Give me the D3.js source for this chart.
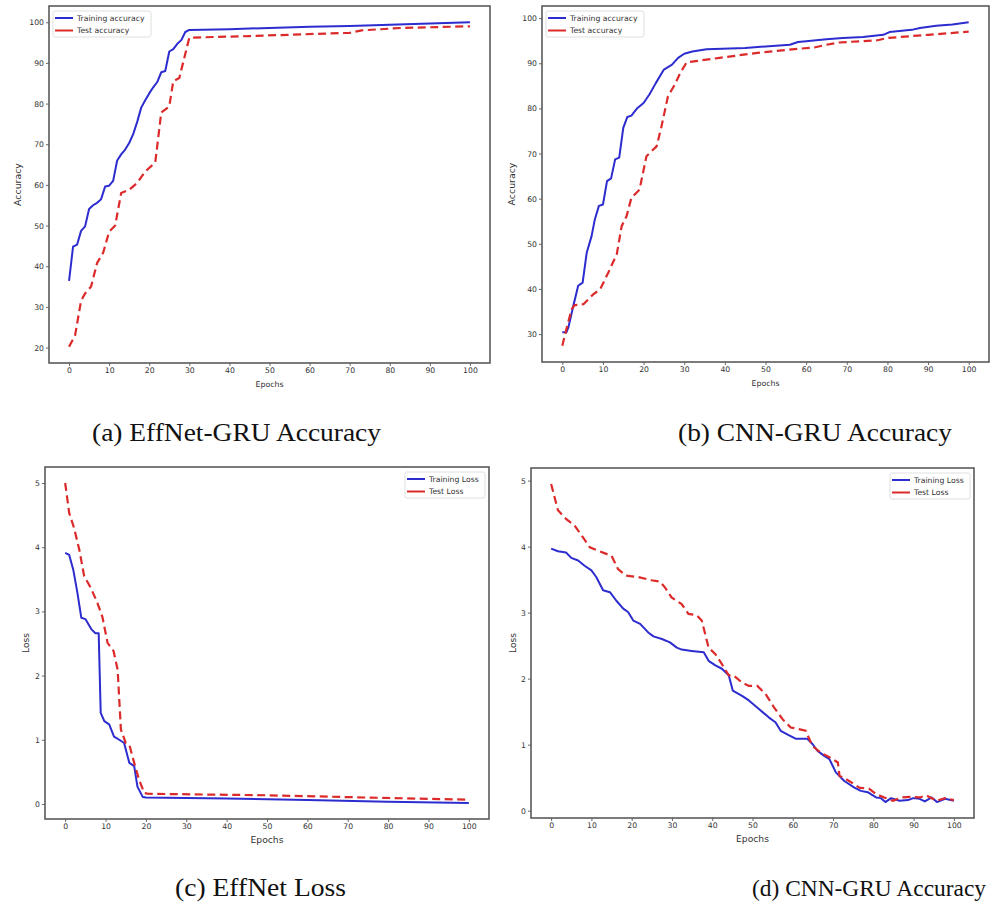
<!DOCTYPE html>
<html>
<head>
<meta charset="utf-8">
<script src="https://cdn.jsdelivr.net/npm/d3@7"></script>
<style>
  body { margin: 0; background: #fff; }
  svg { display: block; }
  .tick text { font-family: "DejaVu Sans", sans-serif; fill: #333; }
  .caption { font-family: "Liberation Serif", "Times New Roman", serif; fill: #111; }
</style>
</head>
<body>
<svg id="fig" width="991" height="905"></svg>
<script>
// epoch ticks shared by all four plots
var epochTicks = [0, 10, 20, 30, 40, 50, 60, 70, 80, 90, 100];
var accTicksA = [20, 30, 40, 50, 60, 70, 80, 90, 100];
var accTicksB = [30, 40, 50, 60, 70, 80, 90, 100];
var lossTicks = [0, 1, 2, 3, 4, 5];

// (a) EffNet-GRU accuracy, [epoch, value]
var effTrainAcc = [[0,36.4],[1,44.8],[2,45.3],[3,48.7],[4,49.8],[5,54.1],[6,55.0],[7,55.6],[8,56.5],[9,59.6],[10,59.8],[11,61.0],[12,66.0],[13,67.5],[14,68.7],[15,70.3],[16,72.5],[17,75.5],[18,79.0],[19,80.8],[20,82.5],[21,84.0],[22,85.3],[23,87.7],[24,88.0],[25,92.8],[26,93.4],[27,94.7],[28,95.6],[29,97.6],[30,98.1],[40,98.3],[50,98.6],[60,98.9],[70,99.1],[80,99.4],[90,99.7],[100,100]];
var effTestAcc = [[0,20.2],[1.5,23],[3,31.5],[4,33.3],[5.5,35],[7,40.8],[8.5,43.3],[10,48.5],[11.5,50],[13,58],[15,58.8],[17,60.5],[19,63.3],[21.5,65.5],[23,77.8],[25,79.3],[26,85.5],[27.5,86.3],[30,96.2],[45,96.6],[70,97.4],[73,98.0],[83,98.6],[100,99.0]];

// (b) CNN-GRU accuracy
var cnnTrainAcc = [[0,30.4],[1,30.4],[1.5,31.5],[2.7,36.2],[3.9,40.7],[5,41.4],[6,48.0],[7.2,51.7],[8,55.4],[9,58.4],[10,58.7],[11,63.9],[12,64.5],[13,68.7],[14,69.1],[15,75.7],[16,78.1],[17,78.4],[18.5,80.1],[20,81.2],[21.5,83.2],[23,85.6],[25,88.6],[27,89.7],[28.5,91.2],[30,92.1],[32,92.6],[35.5,93.1],[45,93.4],[56,94.1],[58,94.7],[60,94.9],[65,95.3],[69,95.6],[74,95.8],[79,96.3],[80.5,96.9],[86,97.4],[88,97.8],[92,98.3],[96,98.6],[100,99.1]];
var cnnTestAcc = [[0,27.4],[1,31.1],[2.3,35.5],[3,36.4],[5.2,36.6],[7.6,38.8],[9.3,39.9],[11.3,43.6],[13.4,47.7],[14.6,53.9],[15.8,56.1],[17,60.2],[19,62.0],[20.7,69.4],[23.2,71.6],[24.4,76.0],[26,82.7],[27.7,85.3],[29,87.8],[30.6,90.2],[38.7,91.2],[48,92.3],[55.5,93.0],[62,93.5],[65,94.1],[68,94.6],[77.6,95.1],[80,95.6],[90,96.3],[100,97.0]];

// (c) EffNet loss
var effTrainLoss = [[0,3.91],[1,3.88],[2,3.65],[3,3.30],[4,2.90],[5,2.88],[6.5,2.72],[7.5,2.66],[8.3,2.66],[8.8,1.42],[9.7,1.29],[10.9,1.24],[12.1,1.05],[13.4,1.0],[14.6,0.95],[15.9,0.64],[17.1,0.59],[17.9,0.27],[19.2,0.11],[20,0.10],[40,0.085],[60,0.06],[80,0.035],[100,0.015]];
var effTestLoss = [[0,5.0],[1,4.53],[2.2,4.30],[3.5,3.96],[4.7,3.55],[6.4,3.36],[8,3.13],[9.2,2.92],[10.5,2.51],[12,2.38],[13,2.09],[13.8,1.16],[15,0.95],[15.9,0.92],[17.1,0.64],[18.3,0.38],[19.6,0.17],[20.4,0.16],[25,0.155],[50,0.135],[75,0.10],[100,0.067]];

// (d) CNN-GRU loss
var cnnTrainLoss = [[0,3.97],[1.7,3.93],[3.7,3.91],[5,3.83],[6.7,3.79],[8.3,3.71],[10,3.64],[11.2,3.54],[12.9,3.34],[14.6,3.31],[16.2,3.18],[17.9,3.06],[19.1,3.01],[20.4,2.88],[22.1,2.83],[24.1,2.70],[25.4,2.64],[27.5,2.60],[29.5,2.55],[31.2,2.47],[32.4,2.44],[34.9,2.42],[37.9,2.40],[39.1,2.27],[40.8,2.20],[42.4,2.15],[44.1,2.05],[45.1,1.82],[47.4,1.74],[49.1,1.67],[51.6,1.54],[54.1,1.41],[55.7,1.34],[57,1.21],[59.1,1.14],[60.7,1.09],[63.6,1.09],[64.9,1.01],[66.1,0.91],[67.8,0.83],[69.1,0.78],[70.7,0.58],[72.8,0.45],[75.3,0.35],[76.9,0.30],[78.6,0.28],[80.7,0.20],[81.9,0.19],[83,0.13],[84.4,0.19],[86.5,0.15],[88.6,0.16],[89.9,0.19],[91.5,0.18],[92.8,0.14],[94.5,0.20],[95.8,0.13],[97.8,0.18],[100,0.15]];
var cnnTestLoss = [[0,4.95],[1.7,4.55],[3.7,4.42],[5.8,4.32],[7.9,4.14],[9.6,3.99],[11.6,3.94],[13.7,3.89],[15,3.86],[16.6,3.66],[18.6,3.56],[21.6,3.54],[24.9,3.49],[27,3.47],[28.3,3.38],[29.9,3.23],[32.4,3.13],[34.1,2.98],[36.2,2.96],[37.4,2.88],[39.1,2.47],[40.8,2.37],[42.4,2.22],[44.1,2.05],[45.3,2.05],[47.4,1.94],[49.1,1.89],[51.2,1.89],[53.2,1.77],[55.3,1.57],[57.4,1.39],[59.5,1.26],[61.2,1.24],[63.2,1.21],[64.9,0.98],[66.9,0.88],[69.1,0.81],[71.2,0.73],[71.6,0.53],[74,0.45],[76.5,0.35],[79,0.33],[80.7,0.25],[82.7,0.20],[84.9,0.15],[86.9,0.20],[89.4,0.21],[91.5,0.20],[93.2,0.23],[95.7,0.15],[97.8,0.19],[100,0.16]];

var captions = ["(a) EffNet-GRU Accuracy", "(b) CNN-GRU Accuracy", "(c) EffNet Loss", "(d) CNN-GRU Accuracy"];

var blue = "#2c2ccf";
var red = "#dc2a2a";

var svg = d3.select("#fig");

// one plot per panel
var panels = [
  { train: effTrainAcc, test: effTestAcc, yTicks: accTicksA, yLabel: "Accuracy",
    names: ["Training accuracy", "Test accuracy"], legend: "left",
    box: { x: 49, y: 6, w: 441, h: 357 }, yLabelDx: -31, labelSize: [9.4, 7.8] },
  { train: cnnTrainAcc, test: cnnTestAcc, yTicks: accTicksB, yLabel: "Accuracy",
    names: ["Training accuracy", "Test accuracy"], legend: "left",
    box: { x: 542, y: 6, w: 447, h: 356 }, yLabelDx: -30, labelSize: [9.4, 7.8] },
  { train: effTrainLoss, test: effTestLoss, yTicks: lossTicks, yLabel: "Loss",
    names: ["Training Loss", "Test Loss"], legend: "right",
    box: { x: 45, y: 467, w: 444, h: 352 }, yLabelDx: -19, labelSize: [9.2, 9.2] },
  { train: cnnTrainLoss, test: cnnTestLoss, yTicks: lossTicks, yLabel: "Loss",
    names: ["Training Loss", "Test Loss"], legend: "right",
    box: { x: 531, y: 468, w: 443, h: 350 }, yLabelDx: -18, labelSize: [9.2, 9.2] }
];

panels.forEach(function(p) {
  drawPanel(p);
});

function pad(ext) {
  var m = (ext[1] - ext[0]) * 0.05;
  return [ext[0] - m, ext[1] + m];
}

function drawPanel(p) {
  var b = p.box;
  var g = svg.append("g").attr("transform", "translate(" + [b.x, b.y] + ")");

  var all = p.train.concat(p.test);
  var xScale = d3.scaleLinear()
      .domain(pad([0, 100]))
      .range([0, b.w]);
  var yScale = d3.scaleLinear()
      .domain(pad(d3.extent(all, function(d) { return d[1]; })))
      .range([b.h, 0]);

  // x axis
  g.append("g")
      .attr("transform", "translate(0," + b.h + ")")
      .call(d3.axisBottom(xScale).tickValues(epochTicks).tickSize(3).tickPadding(2))
      .call(styleAxis);

  // y axis
  g.append("g")
      .call(d3.axisLeft(yScale).tickValues(p.yTicks).tickFormat(d3.format("d")).tickSize(3).tickPadding(2))
      .call(styleAxis);

  // frame
  g.append("rect")
      .attr("width", b.w)
      .attr("height", b.h)
      .attr("fill", "none")
      .attr("stroke", "#5a5a5a")
      .attr("stroke-width", 1.6);

  var line = d3.line()
      .x(function(d) { return xScale(d[0]); })
      .y(function(d) { return yScale(d[1]); });

  g.append("path")
      .datum(p.train)
      .attr("d", line)
      .attr("fill", "none")
      .attr("stroke", blue)
      .attr("stroke-width", 2)
      .attr("stroke-linejoin", "round");

  g.append("path")
      .datum(p.test)
      .attr("d", line)
      .attr("fill", "none")
      .attr("stroke", red)
      .attr("stroke-width", 2.2)
      .attr("stroke-dasharray", "8,4.5");

  // axis labels
  g.append("text")
      .attr("transform", "translate(" + [p.yLabelDx, b.h / 2] + ") rotate(-90)")
      .attr("text-anchor", "middle")
      .attr("dy", "0.35em")
      .style("font-family", "DejaVu Sans, sans-serif")
      .style("font-size", p.labelSize[0] + "px")
      .style("fill", "#333")
      .text(p.yLabel);

  g.append("text")
      .attr("x", b.w / 2)
      .attr("y", b.h + 21)
      .attr("text-anchor", "middle")
      .attr("dy", "0.35em")
      .style("font-family", "DejaVu Sans, sans-serif")
      .style("font-size", p.labelSize[1] + "px")
      .style("fill", "#333")
      .text("Epochs");

  // legend
  var lw = p.legend == "left" ? 98 : 80;
  var lx = p.legend == "left" ? 4 : b.w - 4 - lw;
  var leg = g.append("g").attr("transform", "translate(" + [lx, 5] + ")");
  leg.append("rect")
      .attr("width", lw)
      .attr("height", 26)
      .attr("rx", 2)
      .attr("fill", "#fff")
      .attr("stroke", "#d8d8d8")
      .attr("stroke-width", 0.8);
  [blue, red].forEach(function(c, i) {
    var yy = 7 + i * 12.5;
    leg.append("line")
        .attr("x1", 2).attr("x2", 20)
        .attr("y1", yy).attr("y2", yy)
        .attr("stroke", c)
        .attr("stroke-width", 2);
    leg.append("text")
        .attr("x", 24)
        .attr("y", yy)
        .attr("dy", "0.35em")
        .style("font-family", "DejaVu Sans, sans-serif")
        .style("font-size", "7.7px")
        .style("fill", "#333")
        .text(p.names[i]);
  });
}

function styleAxis(sel) {
  sel.select(".domain").remove();
  sel.selectAll(".tick line").attr("stroke", "#444").attr("stroke-width", 0.8);
  sel.selectAll(".tick text").style("font-size", "7.7px");
}

// figure captions (the last one squeezed so it stays inside the page)
var capPos = [[92, 441, 289, 26], [678, 441, 274, 26], [175, 896, 171, 26], [752, 896, 234, 24]];
captions.forEach(function(t, i) {
  svg.append("text")
      .attr("class", "caption")
      .attr("x", capPos[i][0])
      .attr("y", capPos[i][1])
      .attr("textLength", capPos[i][2])
      .attr("lengthAdjust", "spacingAndGlyphs")
      .style("font-size", capPos[i][3] + "px")
      .text(t);
});
</script>
</body>
</html>
